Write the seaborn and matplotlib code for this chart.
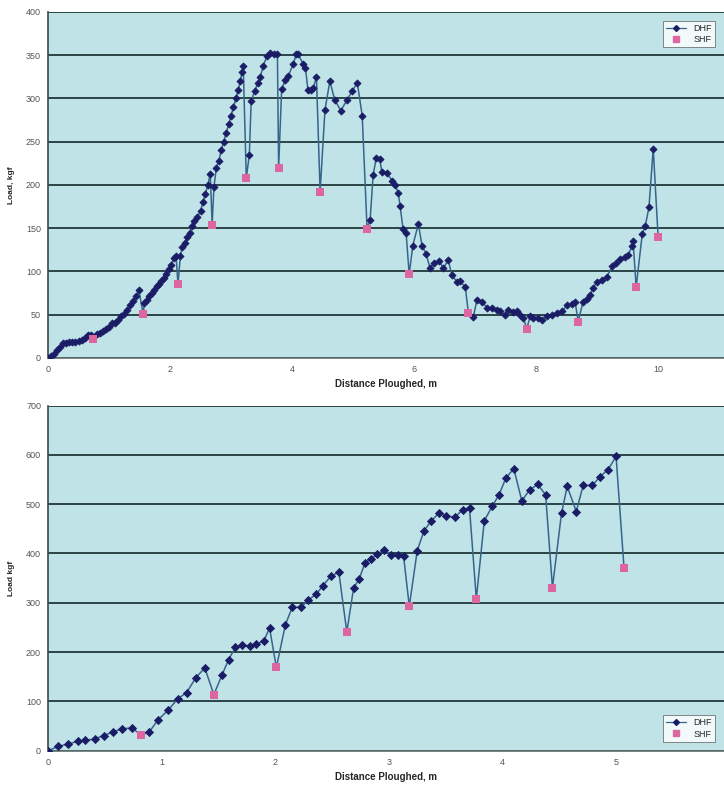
import numpy as np
import pandas as pd
import matplotlib
matplotlib.use("Agg")
import matplotlib.pyplot as plt
import seaborn as sns

# ---- top test: DHF / SHF load vs distance ----
top_dhf_x = [0.0, 0.05, 0.1, 0.15, 0.2, 0.25, 0.3, 0.35, 0.4, 0.45, 0.5, 0.55, 0.6, 0.65, 0.7,
             0.8, 0.85, 0.9, 0.95, 1.0, 1.05, 1.1, 1.15, 1.2, 1.25, 1.3, 1.35, 1.4, 1.45, 1.49,
             1.58, 1.62, 1.66, 1.7, 1.74, 1.78, 1.82, 1.86, 1.9, 1.94, 1.98, 2.02, 2.06, 2.1,
             2.17, 2.2, 2.24, 2.28, 2.32, 2.36, 2.4, 2.45, 2.5, 2.54, 2.58, 2.62, 2.66,
             2.72, 2.76, 2.8, 2.84, 2.88, 2.92, 2.96, 3.0, 3.04, 3.08, 3.12, 3.15, 3.18, 3.2,
             3.3, 3.33, 3.39, 3.44, 3.48, 3.53, 3.59, 3.64, 3.71, 3.76,
             3.83, 3.89, 3.94, 4.02, 4.07, 4.1, 4.18, 4.22, 4.26, 4.31, 4.35, 4.4,
             4.54, 4.62, 4.7, 4.8, 4.9, 4.98, 5.07, 5.15,
             5.28, 5.33, 5.38, 5.44, 5.47, 5.55, 5.64, 5.69, 5.74, 5.77, 5.82, 5.87,
             5.98, 6.07, 6.13, 6.2, 6.26, 6.33, 6.41, 6.48, 6.56, 6.62, 6.7, 6.75, 6.84,
             6.97, 7.03, 7.11, 7.2, 7.28, 7.36, 7.41, 7.49, 7.54, 7.62, 7.69, 7.74, 7.79,
             7.9, 7.95, 8.03, 8.1, 8.18, 8.26, 8.34, 8.43, 8.51, 8.59, 8.64,
             8.77, 8.84, 8.89, 8.93, 9.0, 9.08, 9.16, 9.25, 9.31, 9.38, 9.46, 9.51, 9.57, 9.59,
             9.74, 9.79, 9.85, 9.92]
top_dhf_y = [0, 2, 5, 9, 13, 17, 17, 18, 18, 19, 20, 21, 23, 26, 27,
             28, 29, 31, 34, 36, 40, 41, 44, 48, 51, 55, 61, 66, 72, 78,
             63, 67, 72, 75, 79, 83, 86, 89, 93, 97, 103, 108, 115, 118,
             118, 128, 133, 140, 145, 152, 158, 163, 170, 180, 190, 200, 213,
             198, 220, 228, 240, 250, 260, 270, 280, 290, 300, 310, 320, 330, 338,
             235, 297, 309, 318, 325, 338, 349, 352, 351, 351,
             311, 321, 326, 340, 351, 351, 340, 335, 310, 310, 312, 325,
             287, 320, 298, 286, 298, 308, 318, 280,
             160, 212, 231, 230, 215, 214, 205, 200, 191, 176, 149, 144,
             130, 155, 130, 120, 104, 110, 112, 104, 113, 96, 88, 89, 82,
             47, 67, 65, 58, 58, 56, 54, 50, 55, 53, 54, 50, 46,
             48, 46, 46, 44, 48, 50, 52, 54, 61, 62, 65,
             65, 68, 73, 81, 88, 90, 94, 106, 110, 114, 117, 119, 129, 135,
             143, 153, 174, 242]
top_shf_x = [0.74, 1.56, 2.13, 2.69, 3.25, 3.78, 4.46, 5.23, 5.92, 6.89, 7.85, 8.69, 9.64, 10.0]
top_shf_y = [22, 51, 85, 154, 208, 220, 192, 149, 97, 52, 34, 42, 82, 140]

# ---- bottom test ----
bot_dhf_x = [0.0, 0.09, 0.18, 0.26, 0.33, 0.41, 0.49, 0.57, 0.65, 0.74,
             0.89, 0.97, 1.06, 1.14, 1.22, 1.3, 1.38,
             1.53, 1.59, 1.65, 1.71, 1.78, 1.83, 1.9, 1.95,
             2.09, 2.15, 2.23, 2.29, 2.36, 2.42, 2.49, 2.56,
             2.69, 2.74, 2.79, 2.84, 2.9, 2.96, 3.02, 3.08, 3.13,
             3.25, 3.31, 3.37, 3.44, 3.5, 3.58, 3.65, 3.71,
             3.84, 3.91, 3.97, 4.03, 4.1, 4.17, 4.24, 4.31, 4.38,
             4.52, 4.57, 4.65, 4.71, 4.79, 4.86, 4.93, 5.0]
bot_dhf_y = [0, 9, 14, 19, 21, 24, 31, 38, 45, 46,
             38, 63, 83, 105, 118, 148, 168,
             153, 185, 210, 215, 212, 216, 223, 249,
             256, 291, 291, 306, 317, 335, 354, 362,
             330, 349, 381, 389, 398, 408, 396, 396, 394,
             406, 446, 465, 482, 477, 473, 489, 492,
             466, 496, 519, 553, 572, 507, 529, 540, 519,
             482, 536, 485, 538, 538, 556, 570, 597]
bot_shf_x = [0.82, 1.46, 2.01, 2.63, 3.18, 3.77, 4.44, 5.07]
bot_shf_y = [32, 114, 169, 241, 293, 308, 331, 371]

BG = "#c0e3e7"
GRID = "#2a4446"
LINE = "#36648a"
NAVY = "#1a1d66"
PINK = "#de66a0"

sns.set_theme(style="white")
plt.rcParams["font.family"] = ["Liberation Sans", "DejaVu Sans"]


def draw_panel(ax, dhf_x, dhf_y, shf_x, shf_y, xmax, ymax, ystep, xticks, ylabel,
               legend_loc, msize, ssize):
    dhf = pd.DataFrame({"x": dhf_x, "y": dhf_y, "s": "DHF"})
    shf = pd.DataFrame({"x": shf_x, "y": shf_y, "s": "SHF"})
    full = pd.concat([dhf, shf]).sort_values("x")

    ax.set_facecolor(BG)
    # connecting trace runs through the static points too
    sns.lineplot(data=full, x="x", y="y", ax=ax, color=LINE, lw=1.1,
                 sort=False, estimator=None, legend=False, zorder=2)
    sns.scatterplot(data=dhf, x="x", y="y", ax=ax, marker="D", s=msize, color=NAVY,
                    edgecolor=NAVY, linewidth=0.6, legend=False, zorder=3)
    sns.scatterplot(data=shf, x="x", y="y", ax=ax, marker="s", s=ssize, color=PINK,
                    edgecolor=PINK, linewidth=0, legend=False, zorder=4)

    ax.set_xlim(0, xmax)
    ax.set_ylim(0, ymax)
    ax.set_yticks(np.arange(0, ymax + 1, ystep))
    ax.set_xticks(xticks)
    ax.yaxis.grid(True, color=GRID, lw=1.4)
    ax.set_axisbelow(True)
    for side in ["top", "right"]:
        ax.spines[side].set_visible(False)
    ax.spines["left"].set_color("#3a4a4a")
    ax.spines["left"].set_linewidth(1.2)
    ax.spines["bottom"].set_color("#607070")
    ax.spines["bottom"].set_linewidth(1.2)
    ax.tick_params(axis="both", labelsize=6.5, colors="#555555", length=3, width=0.6,
                   direction="out", pad=2)
    ax.set_xlabel("Distance Ploughed, m", fontsize=7, fontweight="bold", labelpad=4)
    ax.set_ylabel(ylabel, fontsize=6, fontweight="bold", labelpad=8)

    handles = [
        plt.Line2D([], [], color=LINE, lw=0.9, marker="D", markersize=3,
                   markerfacecolor=NAVY, markeredgecolor=NAVY),
        plt.Line2D([], [], color="none", marker="s", markersize=4,
                   markerfacecolor=PINK, markeredgecolor=PINK),
    ]
    leg = ax.legend(handles, ["DHF", "SHF"], loc=legend_loc, fontsize=6.5,
                    frameon=True, fancybox=False, edgecolor="#555555",
                    facecolor="white", handlelength=2.2, borderpad=0.35,
                    labelspacing=0.25, borderaxespad=1.0)
    leg.get_frame().set_linewidth(0.6)


fig = plt.figure(figsize=(7.24, 7.92), dpi=100)
ax_top = fig.add_axes([0.0663, 0.548, 0.9337, 0.437])
ax_bot = fig.add_axes([0.0663, 0.052, 0.9337, 0.436])

draw_panel(ax_top, top_dhf_x, top_dhf_y, top_shf_x, top_shf_y,
           11.08, 400, 50, [0, 2, 4, 6, 8, 10], "Load, kgf", "upper right", 13, 26)
draw_panel(ax_bot, bot_dhf_x, bot_dhf_y, bot_shf_x, bot_shf_y,
           5.95, 700, 100, [0, 1, 2, 3, 4, 5], "Load kgf", "lower right", 17, 34)

fig.savefig("out.png", dpi=100, facecolor="white")
